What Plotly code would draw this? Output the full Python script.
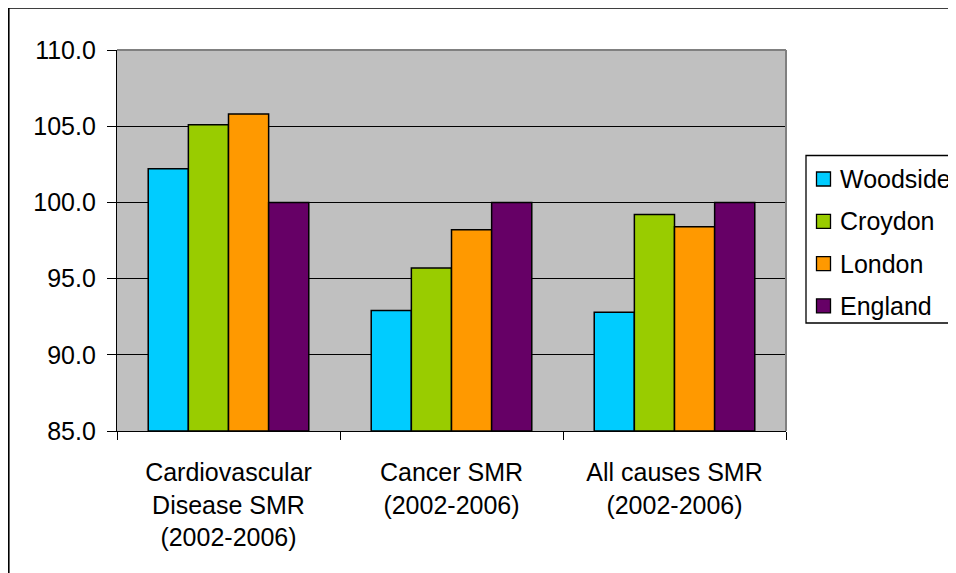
import plotly.graph_objects as go

categories = ["Cardiovascular<br>Disease SMR<br>(2002-2006)",
              "Cancer SMR<br>(2002-2006)",
              "All causes SMR<br>(2002-2006)"]
series_names = ["Woodside", "Croydon", "London", "England"]
woodside = [102.2, 92.9, 92.8]
croydon = [105.1, 95.7, 99.2]
london = [105.8, 98.2, 98.4]
england = [100.0, 100.0, 100.0]
series_values = [woodside, croydon, london, england]
colors = ["#00CCFF", "#99CC00", "#FF9900", "#660066"]
y_ticks = [85, 90, 95, 100, 105, 110]
y_min, y_max = 85, 110

# The page body adds an 8px offset, so figure coordinates are reference - 8.
W, H = 948, 565
ML, MT = 109, 42
pw, ph = 669, 381
MR, MB = W - ML - pw, H - MT - ph

def px_x(x):
    return (x - ML) / pw

def px_y(y):
    return 1 - (y - MT) / ph

FONT = "Liberation Sans, Arial, sans-serif"

fig = go.Figure()
for name, vals, col in zip(series_names, series_values, colors):
    fig.add_trace(go.Bar(
        x=categories, y=[v - y_min for v in vals], base=y_min,
        name=name, showlegend=False,
        marker=dict(color=col, line=dict(color="black", width=1.5)),
        hovertemplate="%{x}: %{customdata:.1f}<extra>" + name + "</extra>",
        customdata=vals,
    ))

shapes = [
    dict(type="line", xref="paper", yref="paper", x0=0, x1=1, y0=1, y1=1,
         line=dict(color="#808080", width=2)),
    dict(type="line", xref="paper", yref="paper", x0=1, x1=1, y0=0, y1=1,
         line=dict(color="#808080", width=2)),
    dict(type="rect", xref="paper", yref="paper", x0=px_x(0.8), x1=px_x(1100),
         y0=px_y(800), y1=px_y(0), line=dict(color="black", width=1.6),
         fillcolor="rgba(0,0,0,0)", layer="below"),
    # legend box
    dict(type="rect", xref="paper", yref="paper", x0=px_x(798), x1=px_x(1100),
         y0=px_y(315), y1=px_y(147.5), line=dict(color="black", width=1.3),
         fillcolor="white"),
]
annotations = []
leg_top, leg_step = 171, 42.3
for i, (name, col) in enumerate(zip(series_names, colors)):
    cy = leg_top + i * leg_step
    shapes.append(dict(type="rect", xref="paper", yref="paper",
                       x0=px_x(808.5), x1=px_x(822.5), y0=px_y(cy + 7), y1=px_y(cy - 7),
                       line=dict(color="black", width=1.3), fillcolor=col))
    annotations.append(dict(xref="paper", yref="paper", x=px_x(830), y=px_y(cy),
                            xanchor="left", yanchor="middle", text=name, showarrow=False,
                            font=dict(family=FONT, size=25, color="black")))

fig.update_layout(
    width=W, height=H,
    margin=dict(l=ML, r=MR, t=MT, b=MB, autoexpand=False),
    paper_bgcolor="white",
    plot_bgcolor="#C0C0C0",
    barmode="group",
    bargap=0.28,
    bargroupgap=0,
    font=dict(family=FONT, size=25, color="black"),
    showlegend=False,
    xaxis=dict(
        type="category", showgrid=False, showline=True, linecolor="black", linewidth=1.3,
        ticks="outside", tickson="boundaries", ticklen=8, tickcolor="black", tickwidth=1.3,
        tickfont=dict(family=FONT, size=25, color="black"),
        ticklabelstandoff=19,
    ),
    yaxis=dict(
        range=[y_min, y_max], tickvals=y_ticks, ticktext=[f"{v:.1f}" for v in y_ticks],
        showgrid=True, gridcolor="black", gridwidth=1.2,
        showline=True, linecolor="black", linewidth=1.3,
        ticks="outside", ticklen=9, tickcolor="black", tickwidth=1.3,
        tickfont=dict(family=FONT, size=25, color="black"),
        zeroline=False, ticklabelstandoff=6,
    ),
    shapes=shapes,
    annotations=annotations,
)

fig.write_html("out.html")
